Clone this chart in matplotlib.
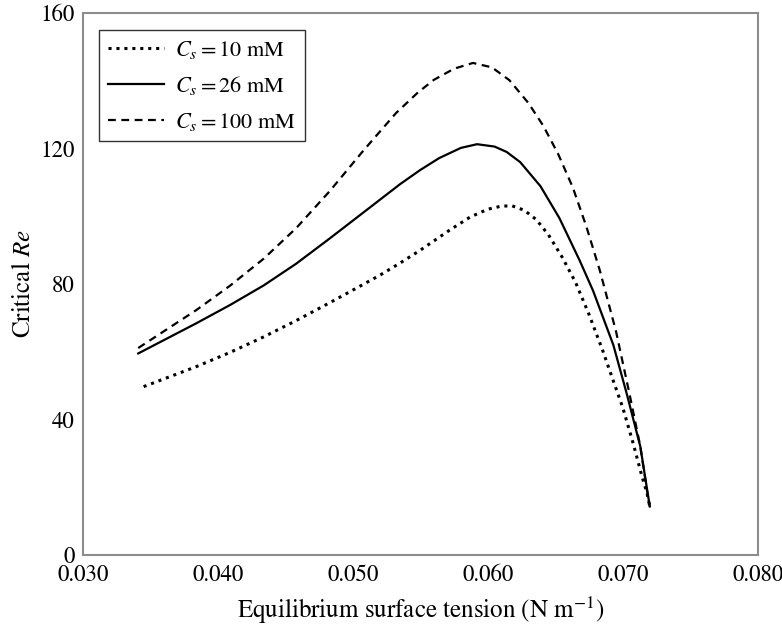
import matplotlib
matplotlib.use("Agg")
import matplotlib.pyplot as plt

# values
x_10 = [0.0345, 0.0384, 0.0409, 0.0434, 0.0458, 0.0483, 0.0505, 0.0520, 0.0535,
        0.0550, 0.0572, 0.0587, 0.0600, 0.0610, 0.0618, 0.0627, 0.0636, 0.0645,
        0.0655, 0.0665, 0.0675, 0.0685, 0.0692, 0.0700, 0.0708, 0.0714, 0.0718,
        0.0720]
re_10 = [49.7, 55.6, 59.8, 64.4, 69.2, 74.5, 79.3, 82.6, 86.2,
         90.0, 96.0, 99.8, 102.1, 103.0, 103.1, 101.8, 99.0, 94.5,
         88.0, 80.5, 71.0, 60.5, 52.5, 43.5, 32.5, 23.5, 18.2,
         14.3]

x_26 = [0.0341, 0.0384, 0.0409, 0.0434, 0.0458, 0.0483, 0.0510, 0.0535, 0.0550,
        0.0564, 0.0580, 0.0592, 0.0605, 0.0614, 0.0624, 0.0639, 0.0653, 0.0668,
        0.0678, 0.0693, 0.0703, 0.0713, 0.0720]
re_26 = [59.5, 68.4, 73.8, 79.6, 86.0, 93.5, 101.8, 109.5, 113.7,
         117.2, 120.2, 121.3, 120.6, 119.0, 116.0, 108.9, 99.5, 87.0,
         78.0, 62.0, 47.5, 32.0, 14.3]

x_100 = [0.0341, 0.0384, 0.0409, 0.0434, 0.0458, 0.0483, 0.0508, 0.0532, 0.0548,
         0.0560, 0.0575, 0.0589, 0.0603, 0.0616, 0.0630, 0.0641, 0.0652, 0.0663,
         0.0673, 0.0683, 0.0695, 0.0705, 0.0713, 0.0719, 0.0720]
re_100 = [61.1, 72.3, 79.5, 87.5, 96.5, 107.5, 119.5, 130.5, 136.5,
          140.3, 143.6, 145.3, 144.0, 140.2, 133.5, 126.8, 118.5, 108.5,
          97.0, 84.0, 66.0, 47.5, 32.0, 16.2, 14.3]

labels = [r"$C_s = 10$ mM", r"$C_s = 26$ mM", r"$C_s = 100$ mM"]
x_ticks = [0.030, 0.040, 0.050, 0.060, 0.070, 0.080]
y_ticks = [0, 40, 80, 120, 160]

plt.rcParams["font.family"] = "STIXGeneral"
plt.rcParams["mathtext.fontset"] = "stix"

fig = plt.figure(figsize=(7.82, 6.27), dpi=100)
ax = fig.add_axes([0.106, 0.115, 0.863, 0.864])

ax.plot(x_10, re_10, color="black", linestyle=(0, (1, 1.6)), linewidth=2.2, label=labels[0])
ax.plot(x_26, re_26, color="black", linestyle="-", linewidth=1.6, label=labels[1])
ax.plot(x_100, re_100, color="black", linestyle=(0, (3.5, 2.5)), linewidth=1.6, label=labels[2])

ax.set_xlim(0.030, 0.080)
ax.set_ylim(0, 160)
ax.set_xticks(x_ticks)
ax.set_xticklabels([f"{v:.3f}" for v in x_ticks])
ax.set_yticks(y_ticks)
ax.tick_params(axis="x", length=0, labelsize=16.5, pad=7)
ax.tick_params(axis="y", length=0, labelsize=16.5, pad=6)

for sp in ax.spines.values():
    sp.set_color("#8c8c8c")
    sp.set_linewidth(1.5)

ax.set_xlabel(r"Equilibrium surface tension (N m$^{-1}$)", fontsize=18, labelpad=6)
ax.set_ylabel(r"Critical $Re$", fontsize=18, labelpad=3)

leg = ax.legend(loc="upper left", fontsize=16, frameon=True, fancybox=False,
                handlelength=2.5, handletextpad=0.5, borderpad=0.4,
                labelspacing=0.6, borderaxespad=0,
                bbox_to_anchor=(0.024, 0.969))
leg.get_frame().set_edgecolor("black")
leg.get_frame().set_linewidth(1.0)

fig.savefig("out.png", dpi=100)
